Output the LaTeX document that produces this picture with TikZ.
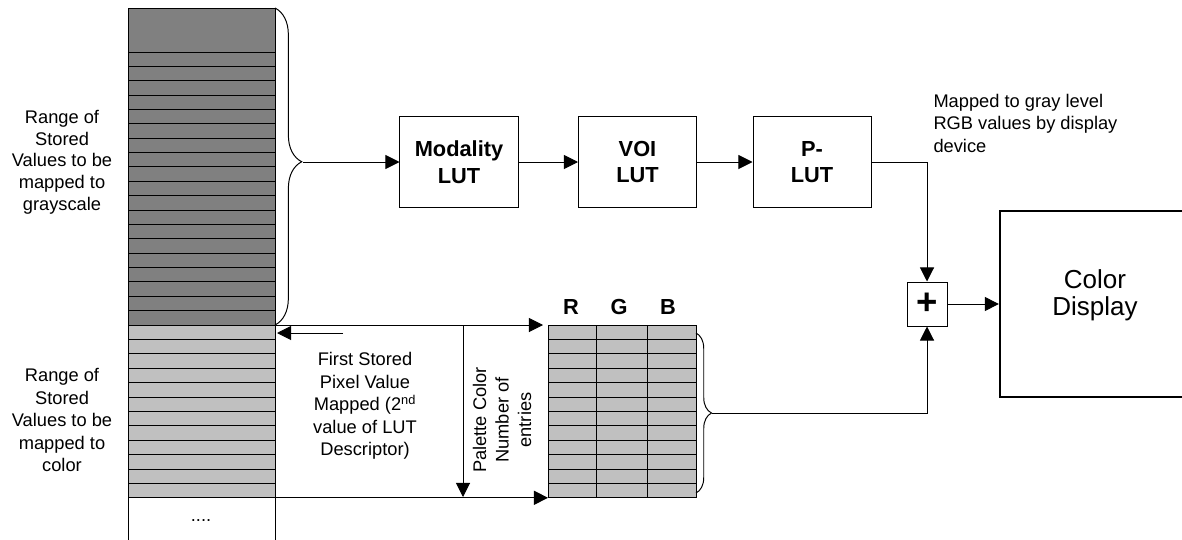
\documentclass[tikz,border=0pt]{standalone}
\usepackage{fontspec}
\setmainfont{Liberation Sans}
\usepackage{xcolor}
\usetikzlibrary{arrows.meta}
\usetikzlibrary{decorations.pathreplacing, math}
\definecolor{storedgray}{RGB}{128,128,128}
\definecolor{palettegray}{RGB}{192,192,192}

\begin{document}
\begin{tikzpicture}[x=0.025cm,y=-0.025cm,line width=0.7pt,
  arr/.style={-{Triangle[length=10pt,width=10pt]}},
  txt/.style={align=center,inner sep=0pt,font=\fontsize{13}{16}\selectfont},
  lut/.style={draw,align=center,minimum width=2.95cm,minimum height=2.25cm,
    font=\bfseries\fontsize{15.5}{19}\selectfont},
  chan/.style={font=\bfseries\fontsize{15.5}{19}\selectfont},
  brc/.style={decorate,decoration={brace,amplitude=#1}}]
\tikzmath{
\xl=128; \xr=275;
\pd=273/19;
\pl=172.8/12;
}
\useasboundingbox (0,0) rectangle (1182,539);

% stored pixel values
\fill[storedgray] (\xl,8) rectangle (\xr,325);
\fill[palettegray] (\xl,325) rectangle (\xr,497.8);
\draw (\xl,8) -- (\xr,8);
\foreach \i in {0,...,19}
  \draw (\xl,52+\i*\pd) -- (\xr,52+\i*\pd);
\foreach \i in {1,...,12}
  \draw (\xl,325+\i*\pl) -- (\xr,325+\i*\pl);
\draw (\xl,8) -- (\xl,545);
\draw (\xr,8) -- (\xr,545);
\node[txt] (dots) at (201,521) {....};

\node[txt,font=\fontsize{13}{15.4}\selectfont] (grayrange) at (62,162) {Range of\\Stored\\Values to be\\mapped to\\grayscale};
\node[txt] (colrange) at (62,420) {Range of\\Stored\\Values to be\\mapped to\\color};

% palette table
\fill[palettegray] (548,325) rectangle (696,497.8);
\foreach \i in {0,...,12}
  \draw (548,325+\i*\pl) -- (696,325+\i*\pl);
\foreach \x in {548,596,647,696}
  \draw (\x,325) -- (\x,497.8);
\node[chan] (rlab) at (571,307) {R};
\node[chan] (glab) at (619,307) {G};
\node[chan] (blab) at (668,307) {B};

% braces
\draw[brc=19pt,decoration={aspect=0.485}] (\xr,8) -- (\xr,325);
\coordinate (graytip) at (303,162);
\draw[brc=11pt] (696,333) -- (696,493);
\coordinate (rgbtip) at (712,413);

% LUT chain
\node[lut] (modlut) at (459,162) {Modality\\LUT};
\node[lut] (voilut) at (637.5,162) {VOI\\LUT};
\node[lut] (plut) at (812,162) {P-\\LUT};
\node[draw,minimum width=1cm,minimum height=1.1cm,inner sep=0pt,
  font=\bfseries\fontsize{26}{26}\selectfont] (sum) at (927,304) {+};
\node[draw,line width=1.6pt,minimum width=4.75cm,minimum height=4.65cm] (disp) at (1095,304) {};
\node[align=center,inner sep=0pt,font=\fontsize{18.5}{19.5}\selectfont] (disptxt) at (1095,295) {Color\\Display};
\node[txt,align=left,anchor=west] (graynote) at (933,123)
  {Mapped to gray level\\RGB values by display\\device};

\draw[arr] (graytip) -- (modlut);
\draw[arr] (modlut) -- (voilut);
\draw[arr] (voilut) -- (plut);
\draw[arr] (plut) -| (sum);
\draw[arr] (rgbtip) -| (sum);
\draw[arr] (sum) -- (disp);

% first entry and number of entries
\coordinate (split) at (\xr,325);
\coordinate (tabtop) at (543,325);
\coordinate (colend) at (\xr,497.8);
\coordinate (tabbot) at (548,497.8);
\coordinate (firstfrom) at (343,333);
\coordinate (firstto) at (277,333);
\coordinate (numtop) at (463,325);
\coordinate (numbot) at (463,497);
\draw[arr] (split) -- (tabtop);
\draw[arr] (colend) -- (tabbot);
\draw[arr] (firstfrom) -- (firstto);
\draw[arr] (numtop) -- (numbot);

\node[txt] (firstval) at (365,406) {First Stored\\Pixel Value\\Mapped (2\textsuperscript{nd}\\value of LUT\\Descriptor)};
\node[txt,rotate=90] (palnum) at (502,420) {Palette Color\\Number of\\entries};

\end{tikzpicture}
\end{document}
